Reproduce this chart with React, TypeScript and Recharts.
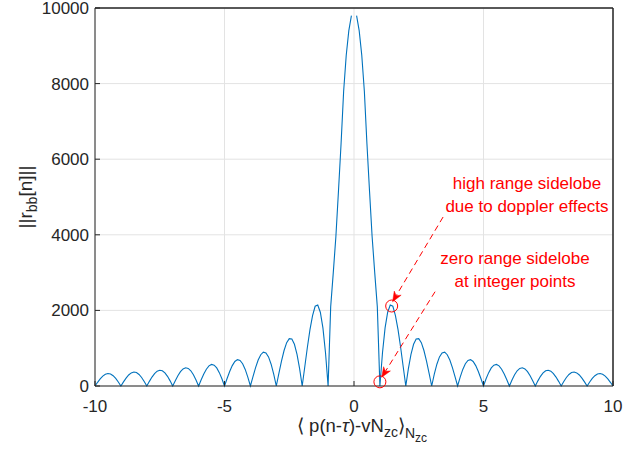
import React from 'react';
import { LineChart, Line, XAxis, YAxis, CartesianGrid, ReferenceDot, ReferenceLine } from 'recharts';

// lag axis, -10 .. 10 in steps of 0.1
const LAG = [
  -10.0, -9.9, -9.8, -9.7, -9.6, -9.5, -9.4, -9.3, -9.2, -9.1,
  -9.0, -8.9, -8.8, -8.7, -8.6, -8.5, -8.4, -8.3, -8.2, -8.1,
  -8.0, -7.9, -7.8, -7.7, -7.6, -7.5, -7.4, -7.3, -7.2, -7.1,
  -7.0, -6.9, -6.8, -6.7, -6.6, -6.5, -6.4, -6.3, -6.2, -6.1,
  -6.0, -5.9, -5.8, -5.7, -5.6, -5.5, -5.4, -5.3, -5.2, -5.1,
  -5.0, -4.9, -4.8, -4.7, -4.6, -4.5, -4.4, -4.3, -4.2, -4.1,
  -4.0, -3.9, -3.8, -3.7, -3.6, -3.5, -3.4, -3.3, -3.2, -3.1,
  -3.0, -2.9, -2.8, -2.7, -2.6, -2.5, -2.4, -2.3, -2.2, -2.1,
  -2.0, -1.9, -1.8, -1.7, -1.6, -1.5, -1.4, -1.3, -1.2, -1.1,
  -1.0, -0.9, -0.8, -0.7, -0.6, -0.5, -0.4, -0.3, -0.2, -0.1,
  0.0,
  0.1, 0.2, 0.3, 0.4, 0.5, 0.6, 0.7, 0.8, 0.9, 1.0,
  1.1, 1.2, 1.3, 1.4, 1.5, 1.6, 1.7, 1.8, 1.9, 2.0,
  2.1, 2.2, 2.3, 2.4, 2.5, 2.6, 2.7, 2.8, 2.9, 3.0,
  3.1, 3.2, 3.3, 3.4, 3.5, 3.6, 3.7, 3.8, 3.9, 4.0,
  4.1, 4.2, 4.3, 4.4, 4.5, 4.6, 4.7, 4.8, 4.9, 5.0,
  5.1, 5.2, 5.3, 5.4, 5.5, 5.6, 5.7, 5.8, 5.9, 6.0,
  6.1, 6.2, 6.3, 6.4, 6.5, 6.6, 6.7, 6.8, 6.9, 7.0,
  7.1, 7.2, 7.3, 7.4, 7.5, 7.6, 7.7, 7.8, 7.9, 8.0,
  8.1, 8.2, 8.3, 8.4, 8.5, 8.6, 8.7, 8.8, 8.9, 9.0,
  9.1, 9.2, 9.3, 9.4, 9.5, 9.6, 9.7, 9.8, 9.9, 10.0,
];

// ||r_bb[n]|| (null at 0 where the curve breaks)
const MAG = [
  0, 98, 188, 262, 311, 330, 317, 273, 200, 106,
  0, 109, 209, 292, 347, 369, 355, 306, 225, 120,
  0, 123, 236, 329, 392, 418, 403, 347, 256, 136,
  0, 140, 271, 379, 452, 482, 466, 403, 297, 159,
  0, 164, 318, 445, 532, 570, 552, 479, 354, 190,
  0, 198, 384, 540, 648, 697, 678, 590, 439, 236,
  0, 248, 485, 686, 828, 896, 877, 769, 576, 313,
  0, 334, 658, 939, 1147, 1254, 1242, 1103, 838, 461,
  0, 510, 1024, 1492, 1864, 2110, 2140, 1951, 1536, 881,
  0, 2100, 3000, 3950, 5150, 6400, 7800, 8750, 9400, 9800,
  null,
  9800, 9400, 8750, 7800, 6400, 5150, 3950, 3000, 2100, 0,
  881, 1536, 1951, 2140, 2110, 1864, 1492, 1024, 510, 0,
  461, 838, 1103, 1242, 1254, 1147, 939, 658, 334, 0,
  313, 576, 769, 877, 896, 828, 686, 485, 248, 0,
  236, 439, 590, 678, 697, 648, 540, 384, 198, 0,
  190, 354, 479, 552, 570, 532, 445, 318, 164, 0,
  159, 297, 403, 466, 482, 452, 379, 271, 140, 0,
  136, 256, 347, 403, 418, 392, 329, 236, 123, 0,
  120, 225, 306, 355, 369, 347, 292, 209, 109, 0,
  106, 200, 273, 317, 330, 311, 262, 188, 98, 0,
];

const X_TICKS = [-10, -5, 0, 5, 10];
const Y_TICKS = [0, 2000, 4000, 6000, 8000, 10000];

// marked points and arrow tails (data units)
const ZERO_MARK = { x: 1.0, y: 110 };
const HIGH_MARK = { x: 1.455, y: 2116 };
const HIGH_ARROW = [{ x: 3.44, y: 4471 }, { x: 1.49, y: 2230 }];
const ZERO_ARROW = [{ x: 3.13, y: 2495 }, { x: 1.07, y: 230 }];

const data = LAG.map((x, i) => ({ x, mag: MAG[i] }));

const INK = '#262626';
const RED = '#ff0000';

const DashedArrow = (props: any) => {
  const { x1, y1, x2, y2 } = props;
  const dx = x2 - x1;
  const dy = y2 - y1;
  const len = Math.sqrt(dx * dx + dy * dy) || 1;
  const ux = dx / len;
  const uy = dy / len;
  const nx = -uy;
  const ny = ux;
  const L = 10;
  const W = 4;
  const bx = x2 - ux * L;
  const by = y2 - uy * L;
  const mx = x2 - ux * L * 0.7;
  const my = y2 - uy * L * 0.7;
  const pts = [
    [x2, y2],
    [bx + nx * W, by + ny * W],
    [mx, my],
    [bx - nx * W, by - ny * W],
  ]
    .map((p) => p.join(','))
    .join(' ');
  return (
    <g>
      <line x1={x1} y1={y1} x2={mx} y2={my} stroke={RED} strokeWidth={1} strokeDasharray="6 4" />
      <polygon points={pts} fill={RED} stroke={RED} strokeWidth={0.5} />
    </g>
  );
};

const noteStyle: React.CSSProperties = {
  position: 'absolute',
  transform: 'translateX(-50%)',
  textAlign: 'center',
  color: RED,
  fontSize: 17,
  lineHeight: '23px',
  whiteSpace: 'nowrap',
};

export default function App() {
  return (
    <div
      style={{
        position: 'fixed',
        left: 0,
        top: 0,
        width: 637,
        height: 455,
        background: '#fff',
        fontFamily: '"Liberation Sans", Arial, sans-serif',
        color: INK,
      }}
    >
      <LineChart width={637} height={455} data={data} margin={{ top: 7, right: 23, bottom: 0, left: 0 }}>
        <CartesianGrid stroke="#e3e3e3" strokeWidth={1} />
        <XAxis
          dataKey="x"
          type="number"
          domain={[-10, 10]}
          ticks={X_TICKS}
          interval={0}
          height={69}
          tickSize={-5}
          tickMargin={19}
          stroke={INK}
          tick={{ fill: INK, fontSize: 17 }}
        />
        <XAxis
          xAxisId="top"
          orientation="top"
          dataKey="x"
          type="number"
          domain={[-10, 10]}
          ticks={X_TICKS}
          interval={0}
          height={1}
          tick={false}
          tickSize={-5}
          stroke={INK}
        />
        <YAxis
          type="number"
          domain={[0, 10000]}
          ticks={Y_TICKS}
          interval={0}
          width={95}
          tickSize={-5}
          tickMargin={11}
          stroke={INK}
          tick={{ fill: INK, fontSize: 17 }}
        />
        <YAxis
          yAxisId="right"
          orientation="right"
          type="number"
          domain={[0, 10000]}
          ticks={Y_TICKS}
          interval={0}
          width={1}
          tick={false}
          tickSize={-5}
          stroke={INK}
        />
        <ReferenceLine y={10000} stroke={INK} strokeWidth={1} />
        <ReferenceLine x={10} stroke={INK} strokeWidth={1} />
        <Line
          type="linear"
          dataKey="mag"
          stroke="#0072BD"
          strokeWidth={1.1}
          dot={false}
          connectNulls={false}
          isAnimationActive={false}
        />
        <ReferenceDot x={ZERO_MARK.x} y={ZERO_MARK.y} r={6} fill="none" stroke={RED} strokeWidth={1} />
        <ReferenceDot x={HIGH_MARK.x} y={HIGH_MARK.y} r={6} fill="none" stroke={RED} strokeWidth={1} />
        <ReferenceLine segment={HIGH_ARROW} shape={DashedArrow} />
        <ReferenceLine segment={ZERO_ARROW} shape={DashedArrow} />
      </LineChart>

      <div style={{ ...noteStyle, left: 527, top: 172 }}>
        high range sidelobe
        <br />
        due to doppler effects
      </div>
      <div style={{ ...noteStyle, left: 515, top: 247 }}>
        zero range sidelobe
        <br />
        at integer points
      </div>

      {/* y label */}
      <div
        style={{
          position: 'absolute',
          left: 27,
          top: 197,
          transform: 'translate(-50%, -50%) rotate(-90deg)',
          fontSize: 19,
          whiteSpace: 'nowrap',
          lineHeight: 1,
        }}
      >
        ||r<sub style={{ fontSize: 14, verticalAlign: '-5px' }}>bb</sub>[n]||
      </div>

      {/* x label */}
      <div
        style={{
          position: 'absolute',
          left: 362,
          top: 417,
          transform: 'translateX(-50%)',
          fontSize: 18.5,
          whiteSpace: 'nowrap',
          lineHeight: 1,
        }}
      >
        {'\u27E8'} p(n-<i>{'\u03C4'}</i>)-vN
        <sub style={{ fontSize: 14, verticalAlign: '-5px' }}>zc</sub>
        {'\u27E9'}
        <sub style={{ fontSize: 14, verticalAlign: '-6px' }}>
          N<sub style={{ fontSize: 12, verticalAlign: '-4px' }}>zc</sub>
        </sub>
      </div>
    </div>
  );
}
